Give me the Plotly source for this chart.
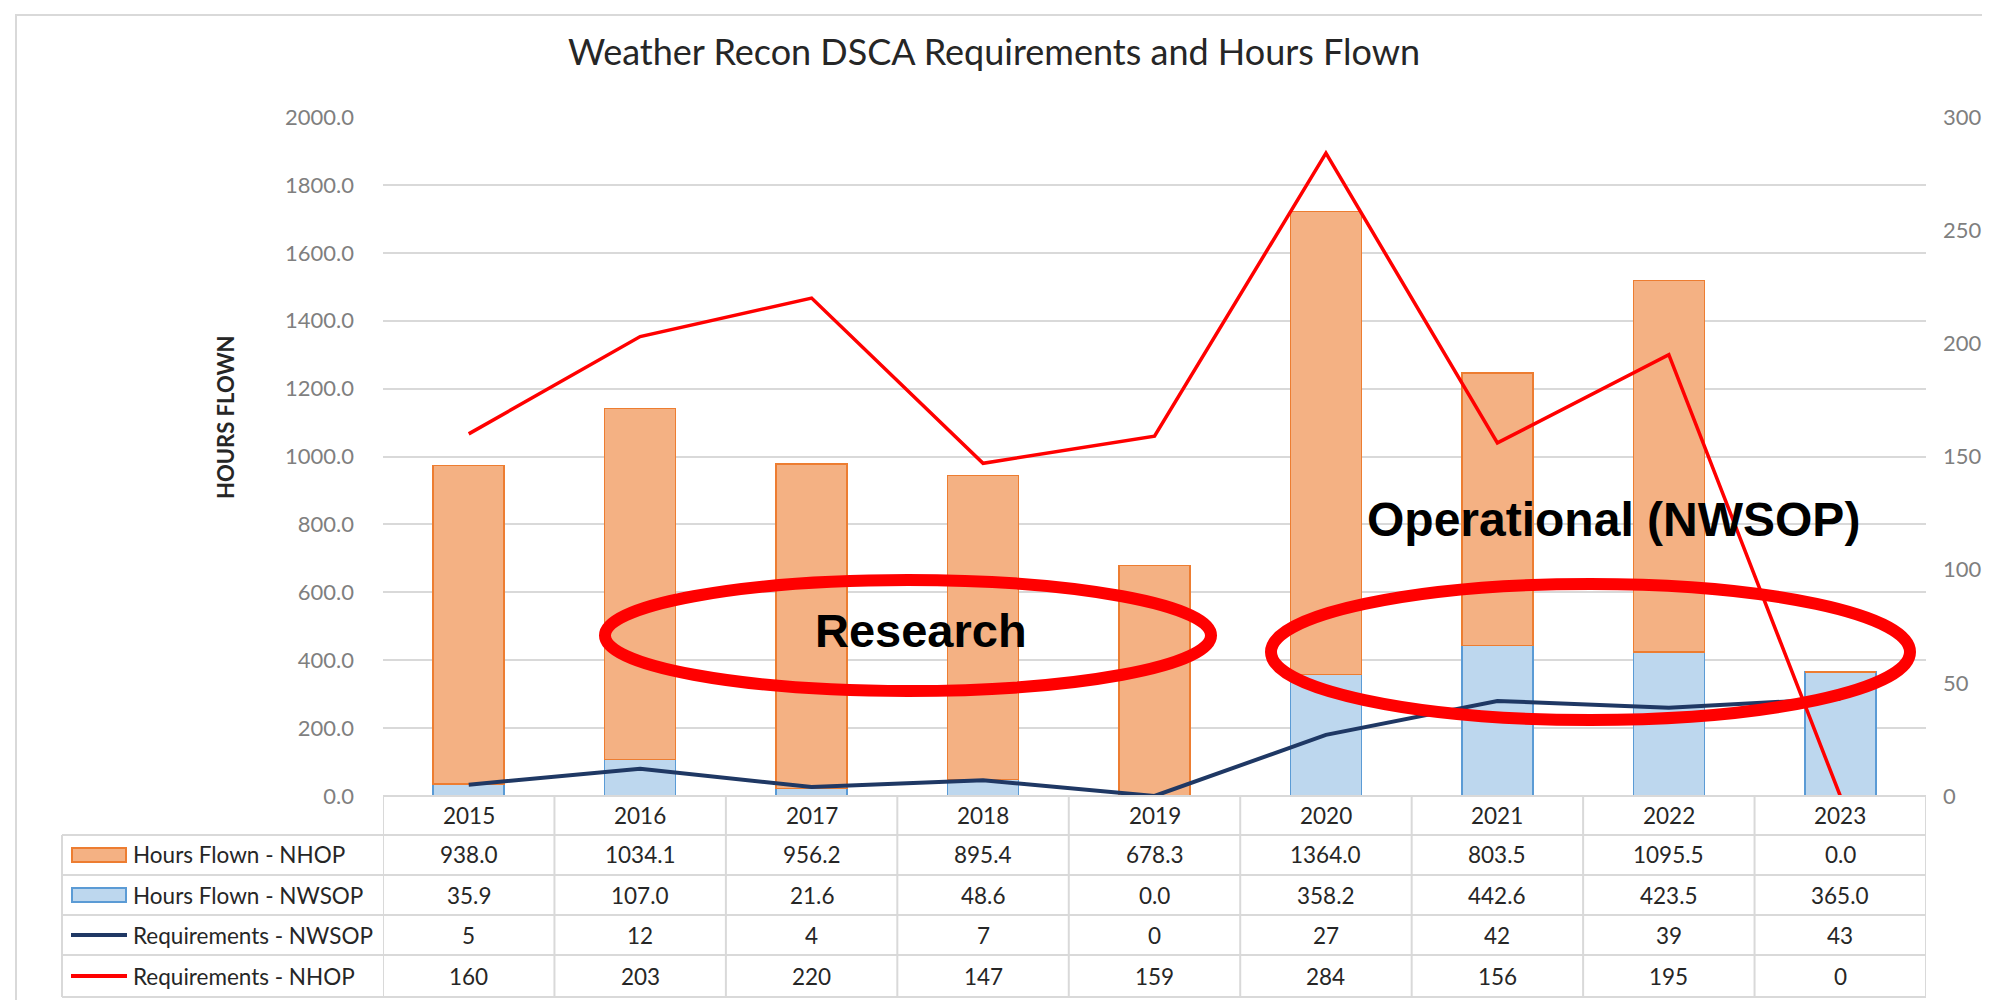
import plotly.graph_objects as go

# ---------------- data ----------------
years = ["2015", "2016", "2017", "2018", "2019", "2020", "2021", "2022", "2023"]
hours_nhop = [938.0, 1034.1, 956.2, 895.4, 678.3, 1364.0, 803.5, 1095.5, 0.0]
hours_nwsop = [35.9, 107.0, 21.6, 48.6, 0.0, 358.2, 442.6, 423.5, 365.0]
req_nwsop = [5, 12, 4, 7, 0, 27, 42, 39, 43]
req_nhop = [160, 203, 220, 147, 159, 284, 156, 195, 0]

series_names = ["Hours Flown - NHOP", "Hours Flown - NWSOP",
                "Requirements - NWSOP", "Requirements - NHOP"]
left_ticks = [0, 200, 400, 600, 800, 1000, 1200, 1400, 1600, 1800, 2000]
right_ticks = [0, 50, 100, 150, 200, 250, 300]

title_text = "Weather Recon DSCA Requirements and Hours Flown"
ytitle_text = "HOURS FLOWN"

# ---------------- geometry (pixels) ----------------
FW, FH = 1990, 1000
PL, PR, PT, PB = 375, 1918, 109, 788
PW, PH = PR - PL, PB - PT


def xp(px):
    return (px - PL) / PW


def yp(py):
    return (PB - py) / PH


ORANGE_FILL, ORANGE_LINE = "#F4B183", "#ED7D31"
BLUE_FILL, BLUE_LINE = "#BDD7EE", "#5B9BD5"
NAVY, RED = "#1F3864", "#FF0000"
GRID = "#D9D9D9"
TXT = "#262626"
TICK = "#7F7F7F"
FONT = "Lato"

fig = go.Figure()

fig.add_trace(go.Bar(x=years, y=hours_nwsop, name=series_names[1],
                     marker=dict(color=BLUE_FILL, line=dict(color=BLUE_LINE, width=1.5)),
                     yaxis="y"))
fig.add_trace(go.Bar(x=years, y=hours_nhop, name=series_names[0],
                     marker=dict(color=ORANGE_FILL, line=dict(color=ORANGE_LINE, width=1.5)),
                     yaxis="y"))
fig.add_trace(go.Scatter(x=years, y=req_nwsop, name=series_names[2], mode="lines",
                         line=dict(color=NAVY, width=4), yaxis="y2"))
fig.add_trace(go.Scatter(x=years, y=req_nhop, name=series_names[3], mode="lines",
                         line=dict(color=RED, width=3.5), yaxis="y2"))

shapes = []
annotations = []

# table lines
row_lines = [827, 867, 907, 947, 989]
shapes.append(dict(type="line", xref="paper", yref="paper", x0=xp(PL), x1=xp(PR),
                   y0=yp(788), y1=yp(788), line=dict(color=GRID, width=2), layer="above"))
for ry in row_lines:
    shapes.append(dict(type="line", xref="paper", yref="paper", x0=xp(54), x1=xp(PR),
                       y0=yp(ry), y1=yp(ry), line=dict(color=GRID, width=2), layer="above"))
shapes.append(dict(type="line", xref="paper", yref="paper", x0=xp(54), x1=xp(54),
                   y0=yp(827), y1=yp(989), line=dict(color=GRID, width=2)))
for i in range(len(years) + 1):
    shapes.append(dict(type="line", xref="x", yref="paper", x0=i - 0.5, x1=i - 0.5,
                       y0=yp(788), y1=yp(989), line=dict(color=GRID, width=2)))

# header years + values (positioned by category index on the x axis)
row_centers = [847, 887, 927, 968]
rows = [
    [f"{v:.1f}" for v in hours_nhop],
    [f"{v:.1f}" for v in hours_nwsop],
    [f"{v:d}" for v in req_nwsop],
    [f"{v:d}" for v in req_nhop],
]
for i, yr in enumerate(years):
    annotations.append(dict(x=i, xref="x", y=yp(807.5), yref="paper", text=yr,
                            showarrow=False, xanchor="center", yanchor="middle",
                            font=dict(family=FONT, size=22.5, color=TXT)))
    for r, rc in enumerate(row_centers):
        annotations.append(dict(x=i, xref="x", y=yp(rc), yref="paper", text=rows[r][i],
                                showarrow=False, xanchor="center", yanchor="middle",
                                font=dict(family=FONT, size=22.5, color=TXT)))

# legend keys in table
for r, rc in enumerate(row_centers):
    annotations.append(dict(x=xp(123), xref="paper", y=yp(rc), yref="paper",
                            text=series_names[r], showarrow=False, xanchor="left",
                            yanchor="middle", font=dict(family=FONT, size=22.5, color=TXT)))
shapes.append(dict(type="rect", xref="paper", yref="paper", x0=xp(64), x1=xp(118),
                   y0=yp(840), y1=yp(854), fillcolor=ORANGE_FILL,
                   line=dict(color=ORANGE_LINE, width=2)))
shapes.append(dict(type="rect", xref="paper", yref="paper", x0=xp(64), x1=xp(118),
                   y0=yp(880), y1=yp(894), fillcolor=BLUE_FILL,
                   line=dict(color=BLUE_LINE, width=2)))
shapes.append(dict(type="line", xref="paper", yref="paper", x0=xp(63), x1=xp(119),
                   y0=yp(927), y1=yp(927), line=dict(color=NAVY, width=4)))
shapes.append(dict(type="line", xref="paper", yref="paper", x0=xp(63), x1=xp(119),
                   y0=yp(968), y1=yp(968), line=dict(color=RED, width=4)))

# outer frame
shapes.append(dict(type="rect", xref="paper", yref="paper", x0=xp(8), x1=xp(2010),
                   y0=yp(7), y1=yp(1020), line=dict(color="#D9D9D9", width=2)))

# ellipses (callouts)
shapes.append(dict(type="circle", xref="paper", yref="paper", x0=xp(597), x1=xp(1203),
                   y0=yp(572), y1=yp(683), line=dict(color=RED, width=12), layer="above"))
shapes.append(dict(type="circle", xref="paper", yref="paper", x0=xp(1263), x1=xp(1902),
                   y0=yp(576), y1=yp(712), line=dict(color=RED, width=12), layer="above"))

annotations.append(dict(x=xp(913), xref="paper", y=yp(622), yref="paper", text="Research",
                        showarrow=False, xanchor="center", yanchor="middle",
                        font=dict(family="Liberation Sans, Arial", size=47, color="#000000",
                                  weight="bold")))
annotations.append(dict(x=xp(1605), xref="paper", y=yp(511), yref="paper",
                        text="Operational (NWSOP)",
                        showarrow=False, xanchor="center", yanchor="middle",
                        font=dict(family="Liberation Sans, Arial",
                                  size=48, color="#000000", weight="bold")))

# y axis title
annotations.append(dict(x=xp(217), xref="paper", y=yp(410), yref="paper", text=ytitle_text,
                        showarrow=False, textangle=-90, xanchor="center", yanchor="middle",
                        font=dict(family=FONT, size=22, color=TXT, weight="bold")))

fig.update_layout(
    width=FW, height=FH,
    margin=dict(l=PL, r=FW - PR, t=PT, b=FH - PB, pad=0),
    paper_bgcolor="white", plot_bgcolor="white",
    barmode="stack", bargap=0.586,
    showlegend=False,
    title=dict(text=title_text, x=986 / FW, xref="container", xanchor="center",
               y=1 - 44 / FH, yref="container", yanchor="middle",
               font=dict(family=FONT, size=36, color=TXT)),
    xaxis=dict(type="category", range=[-0.5, len(years) - 0.5], showticklabels=False,
               showgrid=False, zeroline=False, showline=False, ticks=""),
    yaxis=dict(range=[0, 2000], tickvals=left_ticks,
               ticktext=[f"{v:.1f}" for v in left_ticks],
               showgrid=True, gridcolor=GRID, gridwidth=2, zeroline=False, showline=False,
               ticks="", ticklabelstandoff=28,
               tickfont=dict(family=FONT, size=22, color=TICK)),
    yaxis2=dict(range=[0, 300], tickvals=right_ticks, overlaying="y", side="right",
                showgrid=False, zeroline=False, showline=False, ticks="",
                ticklabelstandoff=16,
                tickfont=dict(family=FONT, size=22, color=TICK)),
    shapes=shapes,
    annotations=annotations,
)

fig.write_html("out.html")
